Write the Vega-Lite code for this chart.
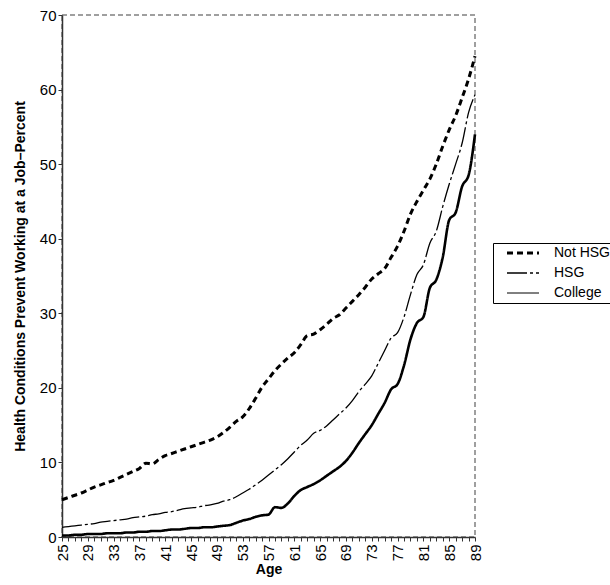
{
  "$schema": "https://vega.github.io/schema/vega-lite/v6.json",
  "width": 413,
  "height": 522,
  "autosize": {"type": "none"},
  "padding": {"left": 62, "top": 15, "right": 135, "bottom": 48},
  "background": "white",
  "config": {
    "font": "Liberation Sans",
    "view": {"stroke": "#808080", "strokeDash": [5, 3], "strokeWidth": 1.5},
    "axis": {
      "labelFont": "Liberation Sans",
      "titleFont": "Liberation Sans",
      "labelColor": "black",
      "titleColor": "black",
      "domainColor": "#333333",
      "tickColor": "#333333",
      "grid": false
    }
  },
  "data": {
    "values": [
      {"age":25,"NotHSG":5.0,"HSG":1.3,"College":0.2},
      {"age":26,"NotHSG":5.3,"HSG":1.4,"College":0.2},
      {"age":27,"NotHSG":5.6,"HSG":1.5,"College":0.3},
      {"age":28,"NotHSG":5.9,"HSG":1.6,"College":0.3},
      {"age":29,"NotHSG":6.3,"HSG":1.7,"College":0.4},
      {"age":30,"NotHSG":6.7,"HSG":1.8,"College":0.4},
      {"age":31,"NotHSG":7.0,"HSG":2.0,"College":0.4},
      {"age":32,"NotHSG":7.3,"HSG":2.1,"College":0.5},
      {"age":33,"NotHSG":7.6,"HSG":2.2,"College":0.5},
      {"age":34,"NotHSG":8.0,"HSG":2.3,"College":0.5},
      {"age":35,"NotHSG":8.4,"HSG":2.4,"College":0.6},
      {"age":36,"NotHSG":8.8,"HSG":2.6,"College":0.6},
      {"age":37,"NotHSG":9.2,"HSG":2.7,"College":0.7},
      {"age":38,"NotHSG":9.9,"HSG":2.8,"College":0.7},
      {"age":39,"NotHSG":9.8,"HSG":3.0,"College":0.8},
      {"age":40,"NotHSG":10.4,"HSG":3.1,"College":0.8},
      {"age":41,"NotHSG":10.9,"HSG":3.3,"College":0.9},
      {"age":42,"NotHSG":11.2,"HSG":3.4,"College":1.0},
      {"age":43,"NotHSG":11.5,"HSG":3.6,"College":1.0},
      {"age":44,"NotHSG":11.8,"HSG":3.8,"College":1.1},
      {"age":45,"NotHSG":12.1,"HSG":3.9,"College":1.2},
      {"age":46,"NotHSG":12.4,"HSG":4.0,"College":1.2},
      {"age":47,"NotHSG":12.7,"HSG":4.2,"College":1.3},
      {"age":48,"NotHSG":13.0,"HSG":4.3,"College":1.3},
      {"age":49,"NotHSG":13.4,"HSG":4.5,"College":1.4},
      {"age":50,"NotHSG":14.0,"HSG":4.8,"College":1.5},
      {"age":51,"NotHSG":14.7,"HSG":5.0,"College":1.6},
      {"age":52,"NotHSG":15.5,"HSG":5.4,"College":1.9},
      {"age":53,"NotHSG":16.1,"HSG":5.9,"College":2.2},
      {"age":54,"NotHSG":17.2,"HSG":6.4,"College":2.4},
      {"age":55,"NotHSG":18.6,"HSG":7.0,"College":2.7},
      {"age":56,"NotHSG":20.1,"HSG":7.6,"College":2.9},
      {"age":57,"NotHSG":21.2,"HSG":8.3,"College":3.0},
      {"age":58,"NotHSG":22.3,"HSG":9.0,"College":4.0},
      {"age":59,"NotHSG":23.2,"HSG":9.7,"College":3.9},
      {"age":60,"NotHSG":24.0,"HSG":10.5,"College":4.5},
      {"age":61,"NotHSG":24.7,"HSG":11.4,"College":5.5},
      {"age":62,"NotHSG":25.8,"HSG":12.3,"College":6.3},
      {"age":63,"NotHSG":27.0,"HSG":13.0,"College":6.7},
      {"age":64,"NotHSG":27.2,"HSG":13.9,"College":7.1},
      {"age":65,"NotHSG":27.8,"HSG":14.3,"College":7.6},
      {"age":66,"NotHSG":28.5,"HSG":14.9,"College":8.2},
      {"age":67,"NotHSG":29.3,"HSG":15.7,"College":8.8},
      {"age":68,"NotHSG":29.8,"HSG":16.5,"College":9.4},
      {"age":69,"NotHSG":30.7,"HSG":17.3,"College":10.2},
      {"age":70,"NotHSG":31.6,"HSG":18.3,"College":11.3},
      {"age":71,"NotHSG":32.5,"HSG":19.5,"College":12.6},
      {"age":72,"NotHSG":33.5,"HSG":20.5,"College":13.8},
      {"age":73,"NotHSG":34.6,"HSG":21.6,"College":15.0},
      {"age":74,"NotHSG":35.3,"HSG":23.3,"College":16.5},
      {"age":75,"NotHSG":36.0,"HSG":25.0,"College":18.0},
      {"age":76,"NotHSG":37.5,"HSG":26.7,"College":19.8},
      {"age":77,"NotHSG":39.0,"HSG":27.4,"College":20.5},
      {"age":78,"NotHSG":41.0,"HSG":29.5,"College":23.0},
      {"age":79,"NotHSG":43.3,"HSG":32.5,"College":26.5},
      {"age":80,"NotHSG":45.0,"HSG":35.2,"College":28.7},
      {"age":81,"NotHSG":46.5,"HSG":36.5,"College":29.5},
      {"age":82,"NotHSG":48.0,"HSG":39.4,"College":33.4},
      {"age":83,"NotHSG":50.0,"HSG":41.0,"College":34.5},
      {"age":84,"NotHSG":52.4,"HSG":44.3,"College":37.5},
      {"age":85,"NotHSG":54.6,"HSG":47.3,"College":42.5},
      {"age":86,"NotHSG":56.5,"HSG":50.0,"College":43.5},
      {"age":87,"NotHSG":58.9,"HSG":52.8,"College":47.0},
      {"age":88,"NotHSG":61.4,"HSG":56.9,"College":48.5},
      {"age":89,"NotHSG":64.5,"HSG":59.3,"College":54.0}
    ]
  },
  "transform": [
    {"fold": ["NotHSG", "HSG", "College"], "as": ["key", "value"]},
    {"calculate": "datum.key === 'NotHSG' ? 'Not HSG' : datum.key", "as": "group"}
  ],
  "mark": {"type": "line", "color": "black", "strokeCap": "butt", "interpolate": "monotone"},
  "encoding": {
    "x": {
      "field": "age",
      "type": "quantitative",
      "scale": {"domain": [25, 89], "nice": false, "zero": false},
      "axis": {
        "title": "Age",
        "titleFontSize": 14,
        "titleFontWeight": "bold",
        "titlePadding": 2,
        "labelFontSize": 15,
        "labelAngle": -90,
        "labelPadding": 3,
        "values": [25,26,27,28,29,30,31,32,33,34,35,36,37,38,39,40,41,42,43,44,45,46,47,48,49,50,51,52,53,54,55,56,57,58,59,60,61,62,63,64,65,66,67,68,69,70,71,72,73,74,75,76,77,78,79,80,81,82,83,84,85,86,87,88,89],
        "labelExpr": "(datum.value - 25) % 4 === 0 ? datum.label : ''",
        "labelOverlap": false,
        "tickSize": 4,
        "domainWidth": 1.5
      }
    },
    "y": {
      "field": "value",
      "type": "quantitative",
      "scale": {"domain": [0, 70], "nice": false},
      "axis": {
        "title": "Health Conditions Prevent Working at a Job–Percent",
        "titleFontSize": 14,
        "titleFontWeight": "bold",
        "titlePadding": 12,
        "labelFontSize": 15,
        "labelPadding": 2,
        "values": [0, 10, 20, 30, 40, 50, 60, 70],
        "tickSize": 4,
        "domainWidth": 1.5
      }
    },
    "detail": {"field": "group"},
    "strokeDash": {
      "field": "group",
      "type": "nominal",
      "scale": {
        "domain": ["Not HSG", "HSG", "College"],
        "range": [[6, 4], [20, 3, 3, 3], [1, 0]]
      },
      "legend": {
        "title": null,
        "orient": "none",
        "legendX": 431,
        "legendY": 228,
        "strokeColor": "black",
        "fillColor": "white",
        "padding": 3,
        "symbolType": "M-4,0L4,0",
        "symbolSize": 64,
        "symbolStrokeColor": "black",
        "symbolOffset": 20,
        "labelFont": "Liberation Sans",
        "labelFontSize": 14,
        "labelColor": "black",
        "labelOffset": 24,
        "rowPadding": 6,
        "encode": {
          "symbols": {
            "update": {
              "strokeWidth": {"signal": "datum.value === 'Not HSG' ? 3 : datum.value === 'HSG' ? 1.6 : 1"},
              "strokeDash": {"signal": "datum.value === 'Not HSG' ? [6, 4] : datum.value === 'HSG' ? [10, 4, 3, 4] : [1, 0]"}
            }
          }
        }
      }
    },
    "strokeWidth": {
      "field": "key",
      "type": "nominal",
      "scale": {"type": "ordinal", "domain": ["NotHSG", "HSG", "College"], "range": [3, 1.3, 2.6]},
      "legend": null
    }
  }
}
